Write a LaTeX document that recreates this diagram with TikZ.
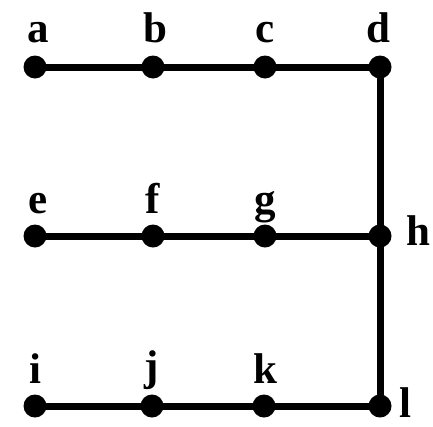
\documentclass[tikz,border=0pt]{standalone}
\usepackage{fontspec}
\setmainfont{Liberation Serif}
\begin{document}
\begin{tikzpicture}[x=1pt,y=-1pt,
  vertex/.style={circle,fill=black,inner sep=0pt,minimum size=23pt},
  edge/.style={line width=7pt},
  lbl/.style={font=\fontsize{43}{43}\selectfont\bfseries,inner sep=0pt,anchor=base}]
\useasboundingbox (0,0) rectangle (433,426);
% vertices
\node[vertex] (a) at (35,67) {};
\node[vertex] (b) at (153,67) {};
\node[vertex] (c) at (265,67) {};
\node[vertex] (d) at (380,67) {};
\node[vertex] (e) at (35,236) {};
\node[vertex] (f) at (153,236) {};
\node[vertex] (g) at (265,236) {};
\node[vertex] (h) at (380,236) {};
\node[vertex] (i) at (35,406) {};
\node[vertex] (j) at (152,406) {};
\node[vertex] (k) at (264,406) {};
\node[vertex] (l) at (380,406) {};
% edges
\draw[edge] (a.center) -- (b.center) -- (c.center) -- (d.center);
\draw[edge] (e.center) -- (f.center) -- (g.center) -- (h.center);
\draw[edge] (i.center) -- (j.center) -- (k.center) -- (l.center);
\draw[edge] (d.center) -- (h.center) -- (l.center);
% labels
\node[lbl] (la) at (38,42) {a};
\node[lbl] (lb) at (155,42) {b};
\node[lbl] (lc) at (265,42) {c};
\node[lbl] (ld) at (378,42) {d};
\node[lbl] (le) at (38,213) {e};
\node[lbl] (lf) at (153,213) {f};
\node[lbl] (lg) at (265,213) {g};
\node[lbl] (lh) at (418,245) {h};
\node[lbl] (li) at (35,383) {i};
\node[lbl] (lj) at (152,380) {j};
\node[lbl] (lk) at (265,383) {k};
\node[lbl] (ll) at (405,417) {l};
\end{tikzpicture}
\end{document}
